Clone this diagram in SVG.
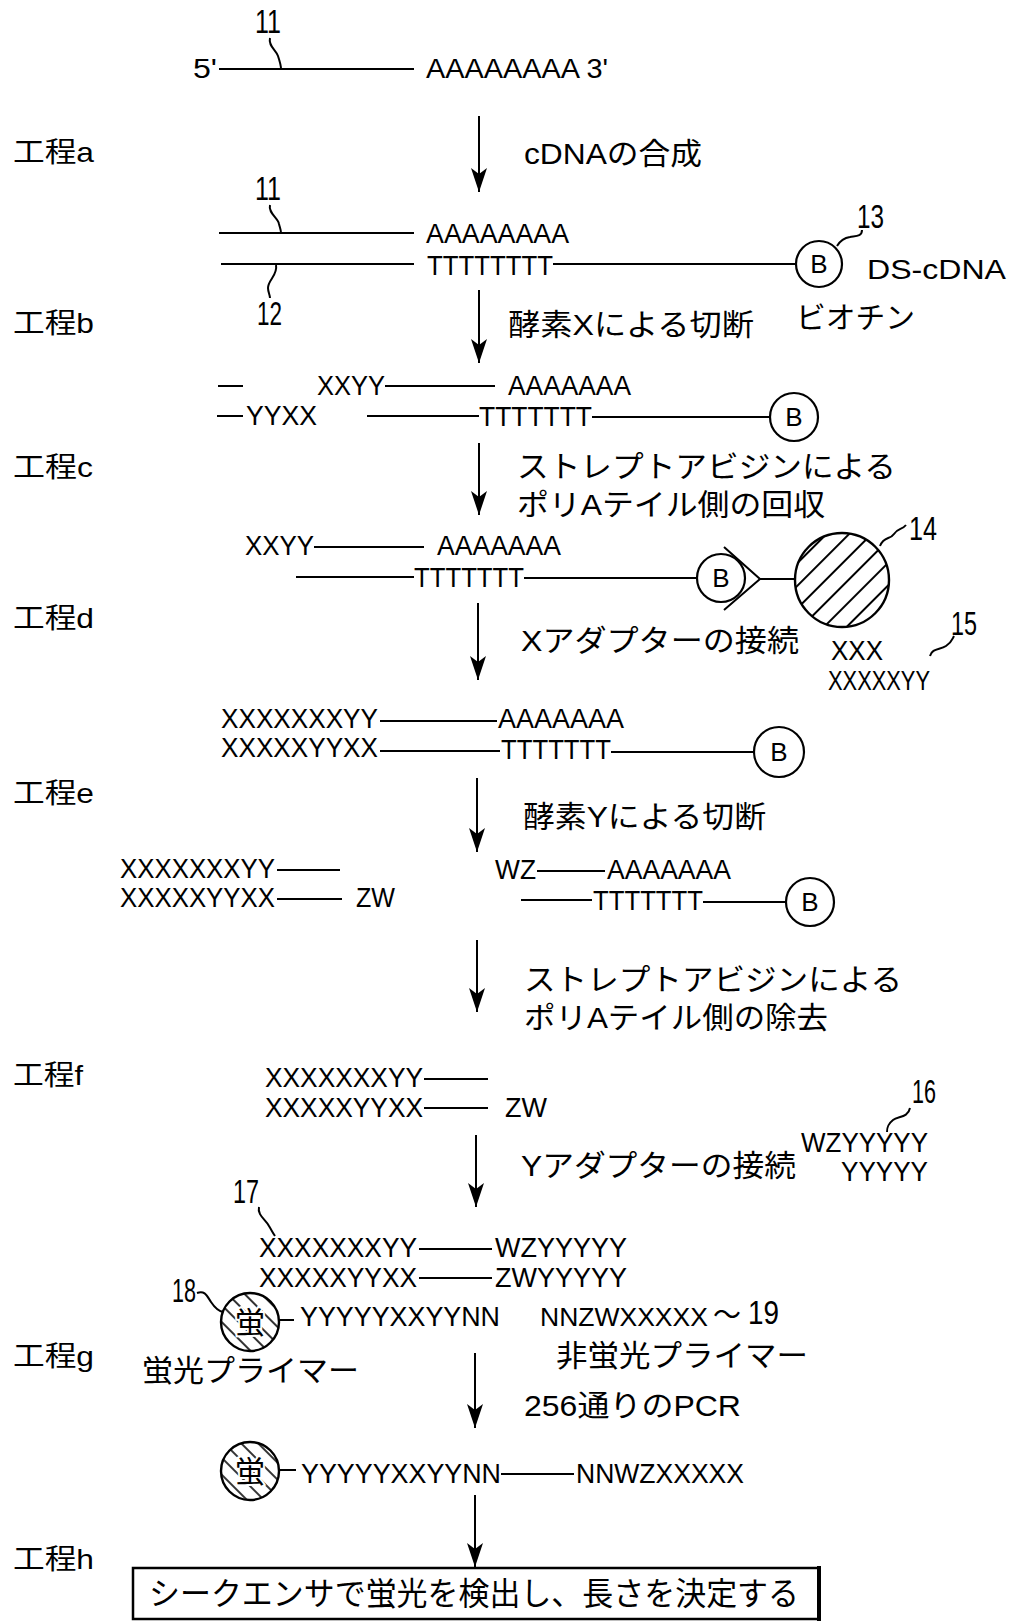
<svg xmlns="http://www.w3.org/2000/svg" width="1009" height="1621" viewBox="0 0 1009 1621">
<style>
text{font-family:"Liberation Sans","Noto Sans CJK JP",sans-serif;fill:#000}
.s{font-size:28px}
.n{font-size:33px}
.j{font-size:30px}
.k{font-size:28px}
.b{font-size:26px;text-anchor:middle}
.ln{stroke:#000;stroke-width:2;fill:none}
.c{stroke:#000;stroke-width:2.2;fill:#fff}
.arr{stroke:#000;stroke-width:2;fill:none;marker-end:url(#ah)}
</style>
<defs>
<marker id="ah" markerUnits="userSpaceOnUse" viewBox="0 -8 24 16" refX="24" refY="0" markerWidth="24" markerHeight="16" orient="auto">
<path d="M0,-8 L24,0 L0,8 L6,0 Z" fill="#000"/>
</marker>
<pattern id="hatchA" patternUnits="userSpaceOnUse" width="16" height="16" patternTransform="rotate(45)">
<rect width="16" height="16" fill="#fff"/>
<line x1="2" y1="0" x2="2" y2="16" stroke="#000" stroke-width="2"/>
</pattern>
<pattern id="hatchB" patternUnits="userSpaceOnUse" width="12" height="12" patternTransform="rotate(-45)">
<rect width="12" height="12" fill="#fff"/>
<line x1="2" y1="0" x2="2" y2="12" stroke="#000" stroke-width="1.6"/>
</pattern>
</defs>

<g id="step-labels">
<text class="k" x="13" y="162" textLength="81" lengthAdjust="spacingAndGlyphs">工程a</text>
<text class="k" x="13" y="333" textLength="81" lengthAdjust="spacingAndGlyphs">工程b</text>
<text class="k" x="13" y="477" textLength="80" lengthAdjust="spacingAndGlyphs">工程c</text>
<text class="k" x="13" y="628" textLength="81" lengthAdjust="spacingAndGlyphs">工程d</text>
<text class="k" x="13" y="803" textLength="81" lengthAdjust="spacingAndGlyphs">工程e</text>
<text class="k" x="13" y="1085" textLength="70" lengthAdjust="spacingAndGlyphs">工程f</text>
<text class="k" x="13" y="1366" textLength="81" lengthAdjust="spacingAndGlyphs">工程g</text>
<text class="k" x="13" y="1569" textLength="81" lengthAdjust="spacingAndGlyphs">工程h</text>
</g>

<g id="connectors">
<line class="arr" x1="479" y1="116" x2="479" y2="192"/>
<line class="arr" x1="479" y1="290" x2="479" y2="363"/>
<line class="arr" x1="479" y1="443" x2="479" y2="515"/>
<line class="arr" x1="478" y1="603" x2="478" y2="680"/>
<line class="arr" x1="477" y1="778" x2="477" y2="852"/>
<line class="arr" x1="477" y1="940" x2="477" y2="1012"/>
<line class="arr" x1="476" y1="1135" x2="476" y2="1207"/>
<line class="arr" x1="475" y1="1353" x2="475" y2="1428"/>
<line class="arr" x1="475" y1="1495" x2="475" y2="1567"/>
</g>

<g id="step-a-labels">
<text class="j" x="524" y="164" textLength="178" lengthAdjust="spacingAndGlyphs">cDNAの合成</text>
<text class="j" x="508" y="335" textLength="246" lengthAdjust="spacingAndGlyphs">酵素Xによる切断</text>
<text class="j" x="517" y="477" textLength="379" lengthAdjust="spacingAndGlyphs">ストレプトアビジンによる</text>
<text class="j" x="517" y="515" textLength="308" lengthAdjust="spacingAndGlyphs">ポリAテイル側の回収</text>
<text class="j" x="521" y="651" textLength="278" lengthAdjust="spacingAndGlyphs">Xアダプターの接続</text>
<text class="j" x="523" y="827" textLength="243" lengthAdjust="spacingAndGlyphs">酵素Yによる切断</text>
<text class="j" x="524" y="990" textLength="378" lengthAdjust="spacingAndGlyphs">ストレプトアビジンによる</text>
<text class="j" x="524" y="1028" textLength="304" lengthAdjust="spacingAndGlyphs">ポリAテイル側の除去</text>
<text class="j" x="521" y="1176" textLength="275" lengthAdjust="spacingAndGlyphs">Yアダプターの接続</text>
<text class="j" x="524" y="1416" textLength="217" lengthAdjust="spacingAndGlyphs">256通りのPCR</text>
</g>

<g id="mrna">
<text class="n" x="255" y="33" textLength="26" lengthAdjust="spacingAndGlyphs">11</text>
<path class="ln" d="M270,38 C268,46 276,50 278,56 C280,62 281,65 281,69"/>
<text class="s" x="193" y="78" textLength="24" lengthAdjust="spacingAndGlyphs">5'</text>
<line class="ln" x1="219" y1="69" x2="414" y2="69"/>
<text class="s" x="426" y="78" textLength="182" lengthAdjust="spacingAndGlyphs">AAAAAAAA 3'</text>
</g>

<g id="ds-cdna">
<text class="n" x="255" y="200" textLength="26" lengthAdjust="spacingAndGlyphs">11</text>
<path class="ln" d="M270,205 C268,213 278,218 279,224 C280,228 281,230 281,233"/>
<line class="ln" x1="219" y1="233" x2="414" y2="233"/>
<text class="s" x="426" y="243" textLength="143" lengthAdjust="spacingAndGlyphs">AAAAAAAA</text>
<line class="ln" x1="221" y1="264" x2="414" y2="264"/>
<text class="s" x="427" y="275" textLength="126" lengthAdjust="spacingAndGlyphs">TTTTTTTT</text>
<line class="ln" x1="553" y1="264" x2="796" y2="264"/>
<path class="ln" d="M276,265 C278,275 268,280 268,288 C268,292 270,295 270,298"/>
<text class="n" x="257" y="325" textLength="25" lengthAdjust="spacingAndGlyphs">12</text>
<circle class="c" cx="819" cy="264" r="23"/>
<text class="b" x="819" y="273">B</text>
<path class="ln" d="M862,230 C862,237 855,236 850,237 C843,238 840,241 837,246"/>
<text class="n" x="857" y="228" textLength="27" lengthAdjust="spacingAndGlyphs">13</text>
<text class="k" x="867" y="279" textLength="139" lengthAdjust="spacingAndGlyphs">DS-cDNA</text>
<text class="j" x="796" y="328" textLength="119" lengthAdjust="spacingAndGlyphs">ビオチン</text>
</g>

<g id="cut-x">
<line class="ln" x1="218" y1="386" x2="243" y2="386"/>
<text class="s" x="317" y="395" textLength="68" lengthAdjust="spacingAndGlyphs">XXYY</text>
<line class="ln" x1="385" y1="386" x2="495" y2="386"/>
<text class="s" x="508" y="395" textLength="123" lengthAdjust="spacingAndGlyphs">AAAAAAA</text>
<line class="ln" x1="217" y1="416" x2="243" y2="416"/>
<text class="s" x="246" y="425" textLength="71" lengthAdjust="spacingAndGlyphs">YYXX</text>
<line class="ln" x1="367" y1="416" x2="479" y2="416"/>
<text class="s" x="479" y="426" textLength="113" lengthAdjust="spacingAndGlyphs">TTTTTTT</text>
<line class="ln" x1="592" y1="417" x2="770" y2="417"/>
<circle class="c" cx="794" cy="417" r="24"/>
<text class="b" x="794" y="426">B</text>
</g>

<g id="captured">
<text class="s" x="245" y="555" textLength="69" lengthAdjust="spacingAndGlyphs">XXYY</text>
<line class="ln" x1="314" y1="547" x2="424" y2="547"/>
<text class="s" x="437" y="555" textLength="124" lengthAdjust="spacingAndGlyphs">AAAAAAA</text>
<line class="ln" x1="296" y1="577" x2="414" y2="577"/>
<text class="s" x="414" y="587" textLength="110" lengthAdjust="spacingAndGlyphs">TTTTTTT</text>
<line class="ln" x1="524" y1="578" x2="697" y2="578"/>
<circle class="c" cx="721" cy="578" r="24"/>
<text class="b" x="721" y="587">B</text>
<path class="ln" d="M724,547 L760,579 L724,610"/>
<line class="ln" x1="760" y1="579" x2="795" y2="579"/>
<circle cx="842" cy="580" r="47" fill="url(#hatchA)" stroke="#000" stroke-width="2.4"/>
<path class="ln" d="M880,546 C884,536 890,540 894,534 C898,528 902,530 906,525"/>
<text class="n" x="909" y="540" textLength="28" lengthAdjust="spacingAndGlyphs">14</text>
</g>

<g id="x-adapter">
<text class="s" x="831" y="660" textLength="52" lengthAdjust="spacingAndGlyphs">XXX</text>
<text class="s" x="828" y="690" textLength="102" lengthAdjust="spacingAndGlyphs">XXXXXYY</text>
<path class="ln" d="M930,656 C932,648 940,650 946,646 C952,642 952,640 954,636"/>
<text class="n" x="951" y="635" textLength="26" lengthAdjust="spacingAndGlyphs">15</text>
</g>

<g id="ligated-x">
<text class="s" x="221" y="728" textLength="157" lengthAdjust="spacingAndGlyphs">XXXXXXXYY</text>
<line class="ln" x1="380" y1="721" x2="497" y2="721"/>
<text class="s" x="498" y="728" textLength="126" lengthAdjust="spacingAndGlyphs">AAAAAAA</text>
<text class="s" x="221" y="757" textLength="157" lengthAdjust="spacingAndGlyphs">XXXXXYYXX</text>
<line class="ln" x1="380" y1="751" x2="500" y2="751"/>
<text class="s" x="501" y="759" textLength="110" lengthAdjust="spacingAndGlyphs">TTTTTTT</text>
<line class="ln" x1="611" y1="752" x2="754" y2="752"/>
<circle class="c" cx="779" cy="752" r="25"/>
<text class="b" x="779" y="761">B</text>
</g>

<g id="cut-y-left">
<text class="s" x="120" y="878" textLength="155" lengthAdjust="spacingAndGlyphs">XXXXXXXYY</text>
<line class="ln" x1="277" y1="870" x2="340" y2="870"/>
<text class="s" x="120" y="907" textLength="155" lengthAdjust="spacingAndGlyphs">XXXXXYYXX</text>
<line class="ln" x1="277" y1="899" x2="342" y2="899"/>
<text class="s" x="356" y="907" textLength="39" lengthAdjust="spacingAndGlyphs">ZW</text>
</g>

<g id="cut-y-right">
<text class="s" x="495" y="879" textLength="41" lengthAdjust="spacingAndGlyphs">WZ</text>
<line class="ln" x1="537" y1="871" x2="605" y2="871"/>
<text class="s" x="607" y="879" textLength="124" lengthAdjust="spacingAndGlyphs">AAAAAAA</text>
<line class="ln" x1="521" y1="900" x2="592" y2="900"/>
<text class="s" x="593" y="910" textLength="110" lengthAdjust="spacingAndGlyphs">TTTTTTT</text>
<line class="ln" x1="703" y1="902" x2="786" y2="902"/>
<circle class="c" cx="810" cy="902" r="24"/>
<text class="b" x="810" y="911">B</text>
</g>

<g id="fragment-f">
<text class="s" x="265" y="1087" textLength="158" lengthAdjust="spacingAndGlyphs">XXXXXXXYY</text>
<line class="ln" x1="424" y1="1079" x2="488" y2="1079"/>
<text class="s" x="265" y="1117" textLength="158" lengthAdjust="spacingAndGlyphs">XXXXXYYXX</text>
<line class="ln" x1="424" y1="1108" x2="488" y2="1108"/>
<text class="s" x="505" y="1117" textLength="42" lengthAdjust="spacingAndGlyphs">ZW</text>
</g>

<g id="y-adapter">
<text class="n" x="912" y="1103" textLength="24" lengthAdjust="spacingAndGlyphs">16</text>
<path class="ln" d="M910,1108 C908,1118 898,1116 893,1120 C888,1124 887,1127 887,1132"/>
<text class="s" x="801" y="1152" textLength="127" lengthAdjust="spacingAndGlyphs">WZYYYYY</text>
<text class="s" x="841" y="1181" textLength="87" lengthAdjust="spacingAndGlyphs">YYYYY</text>
</g>

<g id="ligated-y">
<text class="n" x="233" y="1203" textLength="26" lengthAdjust="spacingAndGlyphs">17</text>
<path class="ln" d="M259,1207 C257,1215 266,1220 269,1226 C272,1231 273,1233 275,1236"/>
<text class="s" x="259" y="1257" textLength="158" lengthAdjust="spacingAndGlyphs">XXXXXXXYY</text>
<line class="ln" x1="419" y1="1249" x2="492" y2="1249"/>
<text class="s" x="495" y="1257" textLength="132" lengthAdjust="spacingAndGlyphs">WZYYYYY</text>
<text class="s" x="259" y="1287" textLength="158" lengthAdjust="spacingAndGlyphs">XXXXXYYXX</text>
<line class="ln" x1="419" y1="1278" x2="492" y2="1278"/>
<text class="s" x="495" y="1287" textLength="132" lengthAdjust="spacingAndGlyphs">ZWYYYYY</text>
</g>

<g id="fluor-primer">
<text class="n" x="172" y="1302" textLength="24" lengthAdjust="spacingAndGlyphs">18</text>
<path class="ln" d="M197,1293 C205,1290 207,1296 211,1302 C215,1308 218,1311 223,1312"/>
<circle cx="250" cy="1322" r="29" fill="url(#hatchB)" stroke="#000" stroke-width="2.4"/>
<text x="250" y="1333" font-size="30" text-anchor="middle" stroke="#fff" stroke-width="4" paint-order="stroke">蛍</text>
<line class="ln" x1="279" y1="1320" x2="294" y2="1320"/>
<text class="s" x="300" y="1326" textLength="200" lengthAdjust="spacingAndGlyphs">YYYYYXXYYNN</text>
<text class="j" x="142" y="1381" textLength="217" lengthAdjust="spacingAndGlyphs">蛍光プライマー</text>
</g>

<g id="nonfluor-primer">
<text x="540" y="1326" font-size="26.5">NNZWXXXXX</text>
<text x="713" y="1325" font-size="28">～</text>
<text class="n" x="748" y="1324" textLength="31" lengthAdjust="spacingAndGlyphs">19</text>
<text class="j" x="556" y="1366" textLength="252" lengthAdjust="spacingAndGlyphs">非蛍光プライマー</text>
</g>

<g id="pcr-product">
<circle cx="250" cy="1471" r="29" fill="url(#hatchB)" stroke="#000" stroke-width="2.4"/>
<text x="250" y="1482" font-size="30" text-anchor="middle" stroke="#fff" stroke-width="4" paint-order="stroke">蛍</text>
<line class="ln" x1="279" y1="1470" x2="296" y2="1470"/>
<text class="s" x="301" y="1483" textLength="200" lengthAdjust="spacingAndGlyphs">YYYYYXXYYNN</text>
<line class="ln" x1="501" y1="1474" x2="574" y2="1474"/>
<text class="s" x="576" y="1483" textLength="168" lengthAdjust="spacingAndGlyphs">NNWZXXXXX</text>
</g>

<g id="result-box">
<rect x="133" y="1568" width="686" height="51" fill="#fff" stroke="#000" stroke-width="2.5"/>
<line x1="819" y1="1566" x2="819" y2="1621" stroke="#000" stroke-width="4"/>
<text x="149" y="1605" font-size="32" textLength="650" lengthAdjust="spacingAndGlyphs">シークエンサで蛍光を検出し、長さを決定する</text>
</g>
</svg>
